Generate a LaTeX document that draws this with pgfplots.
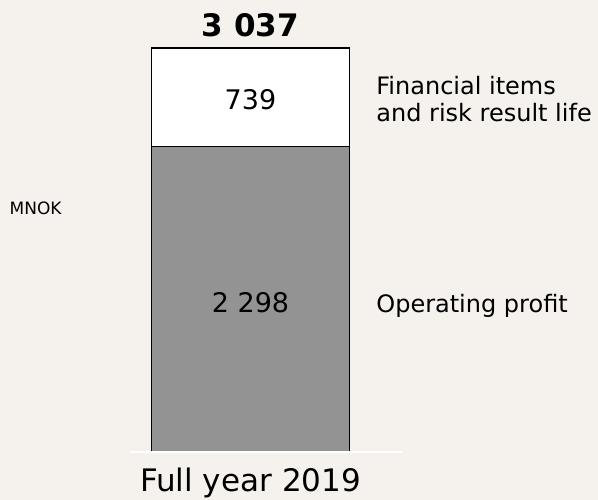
\documentclass[border=0pt]{standalone}
\usepackage{pgfplots}
\pgfplotsset{compat=1.18}
\usepackage{fontspec}
\setmainfont{DejaVu Sans}
\definecolor{bg}{RGB}{245,242,237}
\definecolor{barg}{RGB}{147,147,147}
\begin{document}
\begin{tikzpicture}[x=1pt,y=1pt]
\fill[bg] (0,0) rectangle (598,500);
\useasboundingbox (0,0) rectangle (598,500);
\begin{axis}[at={(0,0)}, anchor=south west, scale only axis,
  width=598pt, height=500pt,
  xmin=-1.2677, xmax=1.7586, ymin=-360.8, ymax=3397.7,
  hide axis, clip=false, ybar stacked, bar width=1]
\addplot[fill=barg, draw=black, line width=1.3pt] coordinates {(0,2298)};
\addplot[fill=white, draw=black, line width=1.3pt] coordinates {(0,739)};
\coordinate (lA) at (axis cs:-0.610,0);
\coordinate (lB) at (axis cs:0.767,0);
\coordinate (tot) at (axis cs:0,3120);
\coordinate (vA) at (axis cs:0,2571);
\coordinate (vB) at (axis cs:0,1052);
\coordinate (fA) at (axis cs:0.636,2691);
\coordinate (fB) at (axis cs:0.636,2481);
\coordinate (op) at (axis cs:0.636,1052);
\coordinate (mn) at (axis cs:-1.220,1789);
\coordinate (cat) at (axis cs:0,-300);
\end{axis}
\begin{scope}[every node/.style={inner sep=0pt, text=black}]
\draw[white, line width=2pt] (lA) -- (lB);
\node[anchor=base, font=\fontsize{31}{37}\selectfont\bfseries] at (tot) {3 037};
\node[anchor=base, font=\fontsize{27}{32}\selectfont] at (vA) {739};
\node[anchor=base, font=\fontsize{27}{32}\selectfont] at (vB) {2 298};
\node[anchor=base west, font=\fontsize{24}{29}\selectfont] at (fA) {Financial items};
\node[anchor=base west, font=\fontsize{24}{29}\selectfont] at (fB) {and risk result life};
\node[anchor=base west, font=\fontsize{24}{29}\selectfont] at (op) {Operating profit};
\node[anchor=base west, font=\fontsize{17}{20}\selectfont] at (mn) {MNOK};
\node[anchor=base, font=\fontsize{31}{37}\selectfont] at (cat) {Full year 2019};
\end{scope}
\end{tikzpicture}
\end{document}
